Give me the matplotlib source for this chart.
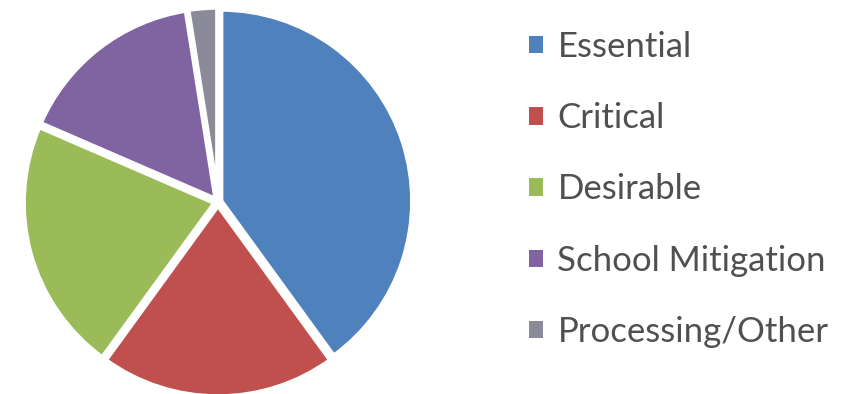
import matplotlib.pyplot as plt
from matplotlib.patches import Patch

# project share by category
labels = ['Essential', 'Critical', 'Desirable', 'School Mitigation', 'Processing/Other']
shares = [40.0, 20.0, 21.5, 16.0, 2.5]
colors = ['#4F81BD', '#C0504D', '#9BBB59', '#8064A2', '#8A8A98']
explode = [0.015, 0.015, 0.015, 0.015, 0.015]

W, H = 843, 394
fig = plt.figure(figsize=(W / 100, H / 100), dpi=100)

# pie axes: centre (218, 202) px, radius ~192 px
lim = 1.03
r_px = 192
cx, cy = 218, 202
half = r_px * lim
ax = fig.add_axes([(cx - half) / W, (H - cy - half) / H, 2 * half / W, 2 * half / H])

wedges, _ = ax.pie(shares, colors=colors, startangle=90, counterclock=False,
                   explode=explode, radius=1.0,
                   wedgeprops=dict(edgecolor='white', linewidth=3.8))
ax.set_xlim(-lim, lim)
ax.set_ylim(-lim, lim)
ax.set_aspect('equal')
ax.axis('off')

handles = [Patch(facecolor=c, edgecolor='none') for c in colors]
leg = fig.legend(handles, labels, loc='upper left', bbox_to_anchor=(529 / W, 1 - 31 / H),
                 frameon=False, prop={'family': 'Lato', 'size': 25},
                 borderpad=0, borderaxespad=0,
                 handlelength=0.4, handleheight=0.4, handletextpad=0.42,
                 labelspacing=1.13)
for t in leg.get_texts():
    t.set_color('#505050')

fig.savefig('out.png', dpi=100)
